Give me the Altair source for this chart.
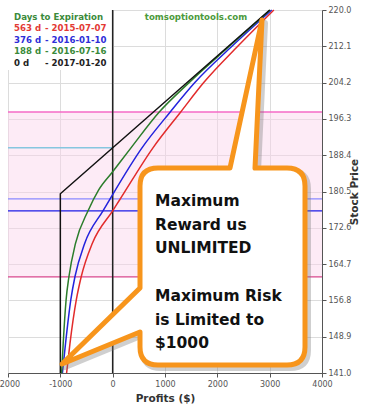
import altair as alt
import pandas as pd

# ---------------- data ----------------
x_ticks = [-2000, -1000, 0, 1000, 2000, 3000, 4000]
y_ticks = [141.0, 148.9, 156.8, 164.7, 172.6, 180.5, 188.4, 196.3, 204.2, 212.1, 220.0]

series_names = ["563 d", "376 d", "188 d"]
series_colors = ["#e22b2b", "#2323dd", "#2b7d2b"]

red_price = [141.0, 147.5, 156.9, 162.0, 169.2, 176.3, 178.7, 190.0, 197.8, 204.2, 212.1, 220.0]
red_profit = [-880, -815, -695, -600, -390, 0, 135, 770, 1300, 1740, 2390, 3080]

blue_price = [141.0, 147.5, 156.9, 162.0, 169.2, 176.3, 178.7, 190.0, 197.8, 204.2, 212.1, 220.0]
blue_profit = [-960, -900, -800, -720, -535, -185, -60, 560, 1100, 1570, 2280, 3040]

green_price = [141.0, 147.5, 156.9, 162.0, 169.2, 176.3, 180.8, 184.8, 190.0, 197.8, 204.2, 212.1, 220.0]
green_profit = [-975, -945, -890, -835, -710, -470, -270, 0, 350, 890, 1460, 2230, 3010]

black_price = [141.0, 180.0, 220.0]
black_profit = [-1000, -1000, 3000]

band_low = [161.9]
band_high = [197.8]

hline_prices = [197.8, 161.9, 178.9, 176.3]
hline_colors = ["#f56ac6", "#d8488e", "#8a8aff", "#1c1ce6"]

breakeven_price = [190.0]
breakeven_from = [-2000]
breakeven_to = [0]

legend_title = "Days to Expiration"
legend_left = ["563 d", "376 d", "188 d", "0 d"]
legend_right = ["- 2015-07-07", "- 2016-01-10", "- 2016-07-16", "- 2017-01-20"]
legend_colors = ["#e33a34", "#2e2ed8", "#3a8a3a", "#222222"]

watermark = "tomsoptiontools.com"
callout_top = ["Maximum", "Reward us", "UNLIMITED"]
callout_bottom = ["Maximum Risk", "is Limited to", "$1000"]

# ---------------- build ----------------
rows = []
for name, pr, pf in [("563 d", red_price, red_profit), ("376 d", blue_price, blue_profit),
                     ("188 d", green_price, green_profit)]:
    for a, b in zip(pr, pf):
        rows.append({"series": name, "price": a, "profit": b})
curves_df = pd.DataFrame(rows)
expiry_df = pd.DataFrame({"price": black_price, "profit": black_profit})

W, H = 314, 363

xscale = alt.Scale(domain=[-2000, 4000], nice=False, zero=False)
yscale = alt.Scale(domain=[141, 220], nice=False, zero=False)

x_axis = alt.Axis(values=x_ticks, title="Profits ($)", grid=True, gridColor="#dcdcdc",
                  labelFontSize=8, labelColor="#555", tickColor="#555", domainColor="#555",
                  tickSize=4, labelPadding=3, titleFontSize=10.5, titleFontWeight="bold",
                  titleColor="#333", titlePadding=5, labelFont="DejaVu Sans",
                  titleFont="DejaVu Sans", labelExpr="'' + datum.value",
                  labelOverlap=False, labelFlush=False)
y_axis = alt.Axis(values=y_ticks, orient="right", title="Stock Price", grid=True,
                  gridColor="#dcdcdc", format=".1f", labelFontSize=8, labelColor="#555",
                  tickColor="#555", domainColor="#555", tickSize=4, labelPadding=2,
                  titleFontSize=10.5, titleFontWeight="bold", titleColor="#333",
                  titlePadding=9, titleAngle=270, labelFont="DejaVu Sans",
                  titleFont="DejaVu Sans", labelOverlap=False, labelFlush=False)

band = alt.Chart(pd.DataFrame({"lo": band_low, "hi": band_high})).mark_rect(
    color="#fbd3ea", opacity=0.45).encode(
    x=alt.value(0), x2=alt.value(W),
    y=alt.Y("lo:Q", scale=yscale, axis=y_axis), y2="hi:Q")

hlines = alt.Chart(pd.DataFrame({"price": hline_prices, "c": hline_colors})).mark_rule(
    strokeWidth=1.3).encode(
    y=alt.Y("price:Q", scale=yscale, axis=y_axis),
    color=alt.Color("c:N", scale=None))

breakeven = alt.Chart(pd.DataFrame({"price": breakeven_price, "profit": breakeven_from,
                                    "p2": breakeven_to})).mark_rule(
    color="#86c6df", strokeWidth=1.5).encode(
    x=alt.X("profit:Q", scale=xscale, axis=x_axis), x2="p2:Q",
    y=alt.Y("price:Q", scale=yscale, axis=y_axis))

legend_box = alt.Chart(pd.DataFrame({"a": [0]})).mark_rect(color="white").encode(
    x=alt.value(0), x2=alt.value(104), y=alt.value(0), y2=alt.value(60))

zero_line = alt.Chart(pd.DataFrame({"profit": [0]})).mark_rule(
    color="#222", strokeWidth=1.5).encode(x=alt.X("profit:Q", scale=xscale, axis=x_axis))

curves = alt.Chart(curves_df).mark_line(interpolate="monotone", strokeWidth=1.5).encode(
    x=alt.X("profit:Q", scale=xscale, axis=x_axis),
    y=alt.Y("price:Q", scale=yscale, axis=y_axis),
    order="price:Q",
    color=alt.Color("series:N", scale=alt.Scale(domain=series_names, range=series_colors),
                    legend=None))

expiry = alt.Chart(expiry_df).mark_line(color="#111", strokeWidth=1.5).encode(
    x=alt.X("profit:Q", scale=xscale, axis=x_axis),
    y=alt.Y("price:Q", scale=yscale, axis=y_axis),
    order="price:Q")

layers = [band, hlines, breakeven, legend_box, zero_line, curves, expiry]

wm = alt.Chart(pd.DataFrame({"t": [watermark]})).mark_text(
    font="DejaVu Sans", fontWeight="bold", fontSize=8.6, color="#4c9a3c",
    align="center", baseline="middle").encode(
    x=alt.value(188), y=alt.value(7), text="t:N")
layers.append(wm)

lt = alt.Chart(pd.DataFrame({"t": [legend_title]})).mark_text(
    font="DejaVu Sans", fontWeight="bold", fontSize=8.6, color="#3a8a3a",
    align="left", baseline="middle").encode(x=alt.value(6), y=alt.value(6.5), text="t:N")
layers.append(lt)
for i, (l, r, c) in enumerate(zip(legend_left, legend_right, legend_colors)):
    yy = 18 + i * 11.5
    layers.append(alt.Chart(pd.DataFrame({"t": [l]})).mark_text(
        font="DejaVu Sans", fontWeight="bold", fontSize=8.6, color=c,
        align="left", baseline="middle").encode(x=alt.value(6), y=alt.value(yy), text="t:N"))
    layers.append(alt.Chart(pd.DataFrame({"t": [r]})).mark_text(
        font="DejaVu Sans", fontWeight="bold", fontSize=8.6, color=c,
        align="left", baseline="middle").encode(x=alt.value(37), y=alt.value(yy), text="t:N"))

callout_path = ("M 150 158 L 222 158 L 254 10 L 247 158 L 279 158 Q 297 158 297 176 "
                "L 297 337 Q 297 355 279 355 L 150 355 Q 132 355 132 337 L 132 322 "
                "L 54 354 L 132 278 L 132 176 Q 132 158 150 158 Z")

shadow = alt.Chart(pd.DataFrame({"a": [0]})).mark_point(
    shape=callout_path, size=4, filled=True, fill="#777", stroke="#777",
    strokeWidth=6, opacity=0.35, strokeJoin="round").encode(
    x=alt.value(3), y=alt.value(3))
callout = alt.Chart(pd.DataFrame({"a": [0]})).mark_point(
    shape=callout_path, size=4, filled=True, fill="white", stroke="#f7951c",
    strokeWidth=5, opacity=1, fillOpacity=1, strokeOpacity=1, strokeJoin="round").encode(
    x=alt.value(0), y=alt.value(0))
ctext1 = alt.Chart(pd.DataFrame({"t": [callout_top]})).mark_text(
    font="DejaVu Sans", fontWeight="bold", fontSize=15.5, color="#111",
    align="left", baseline="top", lineHeight=23.7).encode(
    x=alt.value(147), y=alt.value(184), text="t")
ctext2 = alt.Chart(pd.DataFrame({"t": [callout_bottom]})).mark_text(
    font="DejaVu Sans", fontWeight="bold", fontSize=15.5, color="#111",
    align="left", baseline="top", lineHeight=23.7).encode(
    x=alt.value(147), y=alt.value(279), text="t")
layers += [shadow, callout, ctext1, ctext2]

chart = alt.layer(*layers).properties(
    width=W, height=H, autosize="none",
    padding={"left": 8, "top": 10, "right": 48, "bottom": 36},
    background="white"
).configure_view(stroke="#666", strokeWidth=1).configure_axis(
    labelOverlap=False, labelFlush=False
).configure(font="DejaVu Sans")

chart.save("out.html", embed_options={"renderer": "svg", "actions": False})
